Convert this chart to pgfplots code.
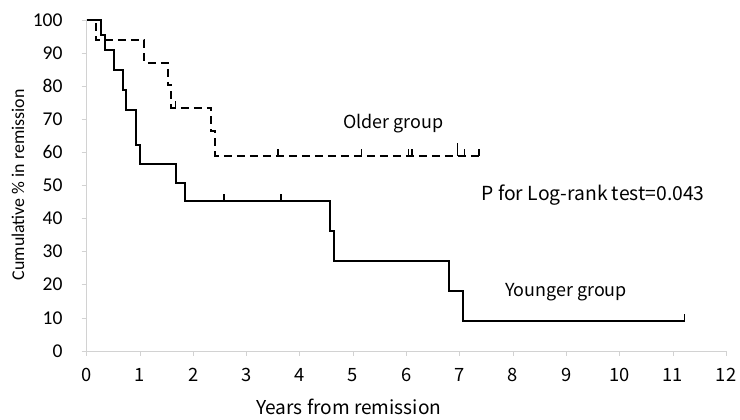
\documentclass[border=0pt]{standalone}
\usepackage{fontspec}
\setmainfont{Noto Sans CJK JP}
\newfontfamily\calfont{Carlito}
\usepackage{pgfplots}
\pgfplotsset{compat=1.18}

% censor mark: a short stroke upward from the curve
\pgfdeclareplotmark{cens}{%
  \pgfpathmoveto{\pgfpointorigin}%
  \pgfpathlineto{\pgfpoint{0pt}{\pgfplotmarksize}}%
  \pgfusepathqstroke}

\begin{document}
\begin{tikzpicture}
\begin{axis}[
  scale only axis,
  width=319.75bp, height=165.5bp,
  xmin=0, xmax=12, ymin=0, ymax=100,
  axis x line*=bottom, axis y line*=left,
  axis line style={gray!35, line width=0.3pt, -},
  xtick={0,...,12}, ytick={0,10,...,100},
  tick align=outside, major tick length=2.5bp,
  tick style={gray!35, line width=0.3pt},
  /pgf/number format/assume math mode=true,
  xticklabel style={font=\fontsize{9.2}{9}\selectfont, yshift=-2.5bp},
  yticklabel style={font=\calfont\fontsize{9.8}{10}\selectfont, xshift=-6bp},
  clip=false,
]
% Younger group (solid)
\addplot[const plot, black, line width=1bp] coordinates {
  (0,100) (0.27,95.5) (0.35,90.9) (0.52,84.8) (0.68,78.8) (0.75,72.7)
  (0.92,62.1) (1.01,56.5) (1.68,50.8) (1.85,45.2) (4.56,36.2) (4.64,27.1)
  (6.80,18.1) (7.06,9.0) (11.22,9.0)
};
\addplot[only marks, mark=cens, mark size=3.5bp, black, line width=0.9bp] coordinates {
  (2.58,45.2) (3.65,45.2) (11.22,9.0)
};
% Older group (dashed)
\addplot[const plot, black, line width=1bp, dash pattern=on 4bp off 2.5bp] coordinates {
  (0,100) (0.18,93.8) (1.08,87.1) (1.52,80.4) (1.59,73.5) (2.34,66.3)
  (2.41,59.0) (7.37,59.0)
};
\addplot[only marks, mark=cens, mark size=3.5bp, black, line width=0.9bp] coordinates {
  (1.67,73.5) (3.59,59.0) (5.16,59.0) (6.04,59.0) (6.10,59.0) (7.09,59.0) (7.37,59.0)
};
\addplot[only marks, mark=cens, mark size=6.5bp, black, line width=0.9bp] coordinates {
  (6.96,59.0)
};

\node[anchor=west, font=\fontsize{9}{9}\selectfont] at (axis cs:4.68,68.6) {Older group};
\node[anchor=west, font=\fontsize{9.7}{9}\selectfont] at (axis cs:7.28,47.1) {P for Log-rank test=0.043};
\node[anchor=west, font=\fontsize{9}{9}\selectfont] at (axis cs:7.72,17.9) {Younger group};
\node[font=\fontsize{9.6}{10}\selectfont, inner sep=1bp] at (axis cs:4.92,-17.0) {Years from remission};
\node[rotate=90, font=\calfont\fontsize{9}{9}\selectfont] at (axis cs:-1.285,50.2) {Cumulative \% in remission};

\coordinate (bl) at (axis cs:-1.623,-20.6);
\coordinate (tr) at (axis cs:12.26,106.0);
\end{axis}
\pgfresetboundingbox
\path (bl) rectangle (tr);
\end{tikzpicture}
\end{document}
